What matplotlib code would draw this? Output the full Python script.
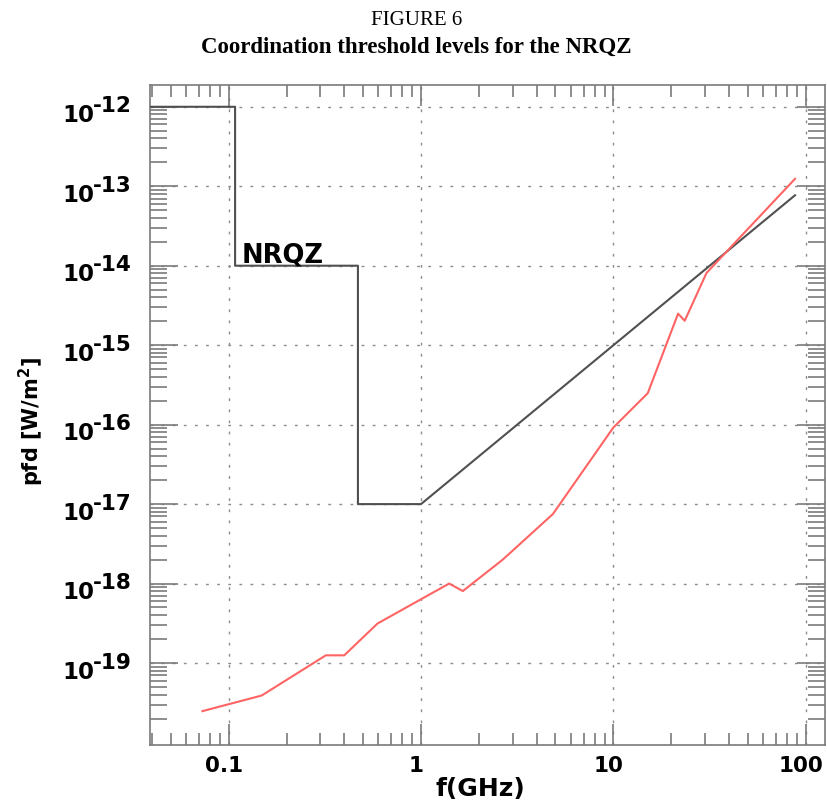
import numpy as np
import matplotlib
matplotlib.use('Agg')
import matplotlib.pyplot as plt
import matplotlib.transforms as mtransforms
from matplotlib.ticker import LogLocator, NullFormatter

# NRQZ coordination threshold (black step curve)
nrqz_freq = [0.03, 0.108, 0.108, 0.47, 0.47, 1.0, 88.0]
nrqz_pfd = [1e-12, 1e-12, 1e-14, 1e-14, 1e-17, 1e-17, 7.7e-14]

# red curve
red_freq = [0.073, 0.1485, 0.32, 0.399, 0.594, 1.40, 1.65, 2.66, 4.85,
            10.0, 15.1, 21.7, 23.5, 30.5, 88.0]
red_pfd = [2.48e-20, 3.9e-20, 1.25e-19, 1.25e-19, 3.14e-19, 1.0e-18, 8.05e-19,
           2.0e-18, 7.5e-18, 9.2e-17, 2.49e-16, 2.49e-15, 2.03e-15, 8.1e-15,
           1.24e-13]

x_major = [0.1, 1, 10, 100]
x_labels = ['0.1', '1', '10', '100']
y_exps = [-19, -18, -17, -16, -15, -14, -13, -12]

PX = 0.72  # points per pixel at dpi 100
frame_col = '#7a7a7a'

fig = plt.figure(figsize=(8.28, 8.02), dpi=100)
ax = fig.add_axes([150/828, 1-745/802, 675/828, 660/802])

ax.plot(nrqz_freq, nrqz_pfd, color='#505050', lw=1.5, zorder=3)
ax.plot(red_freq, red_pfd, color='#ff6464', lw=1.5, zorder=3)

ax.set_xscale('log')
ax.set_yscale('log')
ax.set_xlim(0.039, 126)
ax.set_ylim(9.3e-21, 1.88e-12)

for s in ax.spines.values():
    s.set_color(frame_col)
    s.set_linewidth(1.2)

ax.set_xticks(x_major, labels=x_labels)
ax.xaxis.set_minor_locator(LogLocator(base=10, subs=np.arange(2, 10)))
ax.xaxis.set_minor_formatter(NullFormatter())
ax.set_yticks([10.0**e for e in y_exps])
ax.yaxis.set_minor_locator(LogLocator(base=10, subs=np.arange(2, 10), numticks=20))
ax.yaxis.set_minor_formatter(NullFormatter())
ax.set_yticklabels([])

ax.tick_params(which='both', direction='in', top=True, right=True,
               color=frame_col, width=1.2)
ax.tick_params(axis='x', which='major', length=21*PX, pad=11*PX,
               labelsize=15.5, labelcolor='black')
ax.tick_params(axis='x', which='minor', length=12*PX)
ax.tick_params(axis='y', which='major', length=28*PX)
ax.tick_params(axis='y', which='minor', length=17*PX)
shift = mtransforms.ScaledTranslation(-5/100, 0, fig.dpi_scale_trans)
for lab in ax.get_xticklabels():
    lab.set_fontweight('bold')
    lab.set_transform(lab.get_transform() + shift)

ax.grid(True, which='major', color='#8c8c8c', lw=1.0, linestyle=(0, (2, 6)))

# y tick labels: 10 with raised exponent
for e in y_exps:
    ax.annotate('10', xy=(0, 10.0**e), xycoords=ax.get_yaxis_transform(),
                xytext=(-56*PX, -15.5*PX), textcoords='offset points',
                ha='right', va='baseline', fontsize=16.5, fontweight='bold')
    ax.annotate('-%d' % abs(e), xy=(0, 10.0**e), xycoords=ax.get_yaxis_transform(),
                xytext=(-57*PX, -5.5*PX), textcoords='offset points',
                ha='left', va='baseline', fontsize=15.5, fontweight='bold')

ax.text(0.117, 1.1e-14, 'NRQZ', fontsize=18.5, fontweight='bold',
        va='baseline', ha='left', zorder=4)

fig.text(480/828, 1-796/802, 'f(GHz)', ha='center', va='baseline',
         fontsize=18, fontweight='bold')
fig.text(31/828, 1-422/802, r'pfd [W/m$^{\mathbf{2}}$]', rotation=90,
         ha='center', va='center', fontsize=15, fontweight='bold')

fig.text(0.503, 1-25/802, 'FIGURE 6', ha='center', va='baseline',
         fontsize=15, family='Liberation Serif')
fig.text(0.503, 1-52.5/802, 'Coordination threshold levels for the NRQZ',
         ha='center', va='baseline', fontsize=16.5, fontweight='bold',
         family='Liberation Serif')

fig.savefig('out.png', dpi=100)
